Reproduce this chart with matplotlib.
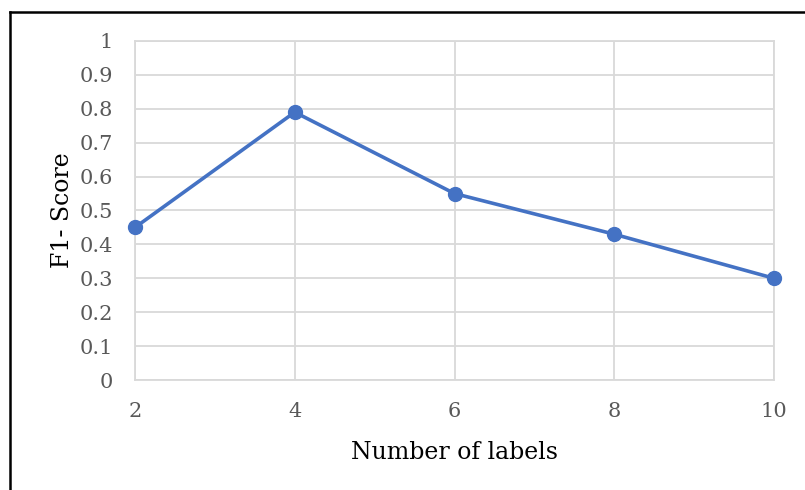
import matplotlib
matplotlib.use("Agg")
import matplotlib.pyplot as plt
from matplotlib.lines import Line2D

# data
num_labels = [2, 4, 6, 8, 10]
f1_score = [0.45, 0.79, 0.55, 0.43, 0.30]
y_ticks = [0, 0.1, 0.2, 0.3, 0.4, 0.5, 0.6, 0.7, 0.8, 0.9, 1]
y_tick_labels = ["0", "0.1", "0.2", "0.3", "0.4", "0.5", "0.6", "0.7", "0.8", "0.9", "1"]

plt.rcParams["font.family"] = ["DejaVu Serif"]

fig = plt.figure(figsize=(8.05, 4.9), dpi=100)
ax = fig.add_axes([135 / 805, 110 / 490, (774 - 135) / 805, (380 - 41) / 490])

grid_col = "#d9d9d9"
ax.plot(num_labels, f1_score, color="#4472C4", lw=2.6, marker="o", ms=10,
        zorder=3, clip_on=False)

ax.set_xlim(2, 10)
ax.set_ylim(0, 1)
ax.set_xticks(num_labels)
ax.set_yticks(y_ticks)
ax.set_yticklabels(y_tick_labels)
ax.grid(True, color=grid_col, lw=1.3)
ax.set_axisbelow(True)
for side in ["left", "bottom", "right", "top"]:
    ax.spines[side].set_color(grid_col)
    ax.spines[side].set_linewidth(1.3)
ax.tick_params(length=0, labelsize=15, labelcolor="#595959")
ax.tick_params(axis="y", pad=16)
ax.tick_params(axis="x", pad=16)

ax.set_xlabel("Number of labels", fontsize=17, labelpad=14)
ax.set_ylabel("F1- Score", fontsize=17, labelpad=4)

# outer frame (top and left edges visible)
fig.add_artist(Line2D([10 / 805, 1.0], [1 - 12 / 490, 1 - 12 / 490],
                      transform=fig.transFigure, color="black", lw=1.8))
fig.add_artist(Line2D([10 / 805, 10 / 805], [0, 1 - 12 / 490],
                      transform=fig.transFigure, color="black", lw=1.8))

fig.savefig("out.png", dpi=100)
